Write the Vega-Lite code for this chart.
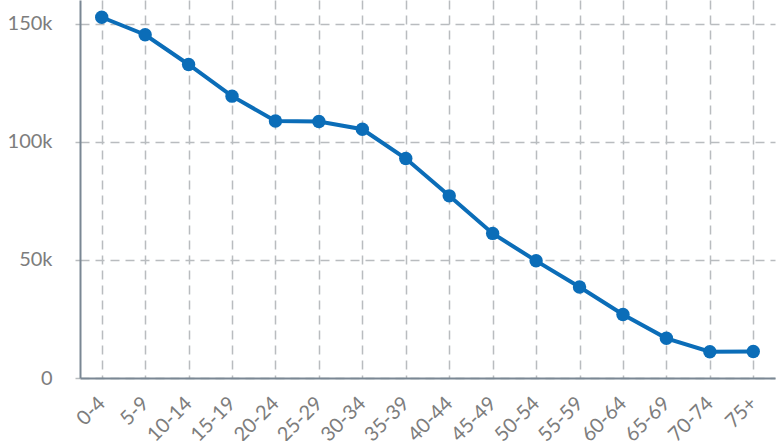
{
  "$schema": "https://vega.github.io/schema/vega-lite/v6.json",
  "width": 695,
  "height": 378,
  "autosize": {"type": "none"},
  "padding": {"left": 80, "top": 0, "right": 7, "bottom": 63},
  "background": "white",
  "config": {
    "view": {"stroke": null},
    "font": "Lato",
    "axis": {
      "labelFont": "Lato",
      "labelColor": "#7d7d7d",
      "labelFontSize": 20,
      "domainColor": "#7a8794",
      "domainWidth": 2,
      "gridColor": "#b9bcbf",
      "gridDash": [9, 6],
      "gridWidth": 1.5,
      "title": null
    }
  },
  "data": {
    "values": [
      {"age": "0-4", "pop": 152700},
      {"age": "5-9", "pop": 145300},
      {"age": "10-14", "pop": 132700},
      {"age": "15-19", "pop": 119300},
      {"age": "20-24", "pop": 108800},
      {"age": "25-29", "pop": 108600},
      {"age": "30-34", "pop": 105300},
      {"age": "35-39", "pop": 92900},
      {"age": "40-44", "pop": 77100},
      {"age": "45-49", "pop": 61200},
      {"age": "50-54", "pop": 49600},
      {"age": "55-59", "pop": 38500},
      {"age": "60-64", "pop": 26900},
      {"age": "65-69", "pop": 16800},
      {"age": "70-74", "pop": 11100},
      {"age": "75+", "pop": 11200}
    ]
  },
  "encoding": {
    "x": {
      "field": "age",
      "type": "ordinal",
      "sort": null,
      "scale": {"type": "point", "padding": 0.5},
      "axis": {
        "labelAngle": -45,
        "labelAlign": "right",
        "labelBaseline": "middle",
        "labelPadding": 22,
        "ticks": false,
        "grid": true
      }
    },
    "y": {
      "field": "pop",
      "type": "quantitative",
      "scale": {"domain": [0, 160000], "nice": false},
      "axis": {
        "values": [0, 50000, 100000, 150000],
        "labelExpr": "datum.value == 0 ? '0' : (datum.value / 1000) + 'k'",
        "tickColor": "#b9bcbf",
        "tickSize": 5,
        "tickWidth": 1.5,
        "labelPadding": 23,
        "grid": true
      }
    }
  },
  "layer": [
    {"mark": {"type": "line", "color": "#0b6db8", "strokeWidth": 4}},
    {"mark": {"type": "point", "filled": true, "color": "#0b6db8", "size": 180, "opacity": 1}}
  ]
}
